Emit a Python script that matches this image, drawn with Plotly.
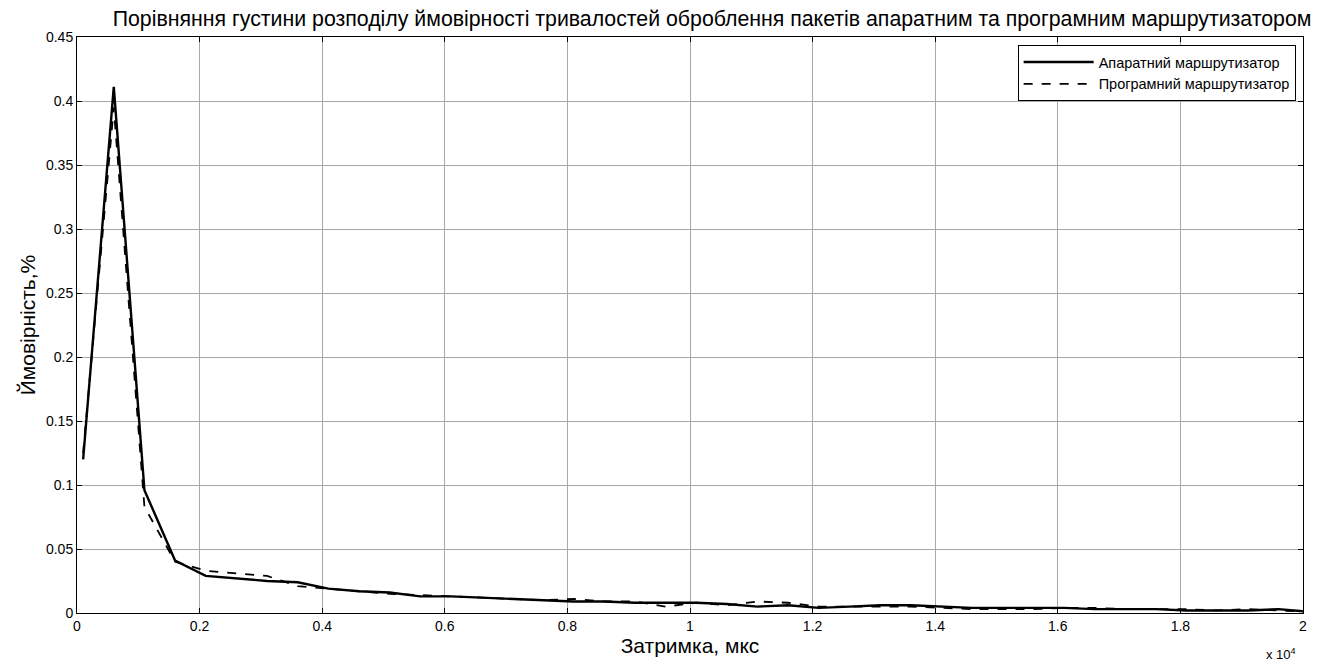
import plotly.graph_objects as go

delay_us = [100 + 500 * i for i in range(41)]
hardware = [0.120, 0.411, 0.096, 0.041, 0.029, 0.027, 0.025, 0.024, 0.019, 0.017,
            0.016, 0.013, 0.013, 0.012, 0.011, 0.010, 0.009, 0.009, 0.008, 0.008,
            0.008, 0.007, 0.005, 0.006, 0.004, 0.005, 0.006, 0.006, 0.005, 0.004,
            0.004, 0.004, 0.004, 0.003, 0.003, 0.003, 0.002, 0.002, 0.002, 0.003,
            0.001]
software = [0.125, 0.395, 0.083, 0.040, 0.033, 0.031, 0.029, 0.021, 0.019, 0.017,
            0.015, 0.014, 0.013, 0.012, 0.011, 0.010, 0.011, 0.009, 0.009, 0.005,
            0.008, 0.006, 0.009, 0.008, 0.005, 0.005, 0.005, 0.005, 0.004, 0.003,
            0.003, 0.003, 0.004, 0.004, 0.003, 0.003, 0.003, 0.002, 0.003, 0.002,
            0.001]

x_tickvals = [0, 2000, 4000, 6000, 8000, 10000, 12000, 14000, 16000, 18000, 20000]
x_ticktext = ["0", "0.2", "0.4", "0.6", "0.8", "1", "1.2", "1.4", "1.6", "1.8", "2"]
y_tickvals = [0, 0.05, 0.1, 0.15, 0.2, 0.25, 0.3, 0.35, 0.4, 0.45]
y_ticktext = ["0", "0.05", "0.1", "0.15", "0.2", "0.25", "0.3", "0.35", "0.4", "0.45"]

fig = go.Figure()
fig.add_trace(go.Scatter(x=delay_us, y=hardware, mode="lines",
                         name="Апаратний маршрутизатор",
                         line=dict(color="black", width=2.4)))
fig.add_trace(go.Scatter(x=delay_us, y=software, mode="lines",
                         name="Програмний маршрутизатор",
                         line=dict(color="black", width=1.8, dash="dash")))

axis_common = dict(showline=True, linecolor="black", linewidth=1, mirror="ticks",
                   ticks="inside", ticklen=5, tickcolor="black",
                   showgrid=True, gridcolor="#a8a8a8", gridwidth=1, zeroline=False,
                   tickfont=dict(family="Arial", size=14, color="black"))

fig.update_xaxes(range=[0, 20000], tickvals=x_tickvals, ticktext=x_ticktext,
                 title=dict(text="Затримка, мкс", font=dict(family="Arial", size=21, color="black"),
                            standoff=2),
                 **axis_common)
fig.update_yaxes(range=[0, 0.45], tickvals=y_tickvals, ticktext=y_ticktext,
                 title=dict(text="Ймовірність,%", font=dict(family="Arial", size=21, color="black"),
                            standoff=4),
                 **axis_common)

fig.update_layout(
    width=1316, height=658,
    margin=dict(l=69, r=21, t=29, b=53),
    paper_bgcolor="white", plot_bgcolor="white",
    font=dict(family="Arial", color="black"),
    title=dict(text="Порівняння густини розподілу ймовірності тривалостей оброблення пакетів апаратним та програмним маршрутизатором",
               font=dict(family="Arial", size=21.3, color="black"),
               xref="paper", x=0.518, xanchor="center", y=0.984, yanchor="middle"),
    legend=dict(x=0.994, xanchor="right", y=0.986, yanchor="top",
                bgcolor="white", bordercolor="black", borderwidth=1,
                font=dict(family="Arial", size=14.5, color="black"),
                tracegroupgap=0, itemwidth=70),
    showlegend=True,
)

fig.add_annotation(text="x 10<sup>4</sup>", xref="paper", yref="paper",
                   x=0.996, y=-0.071, xanchor="right", yanchor="middle", showarrow=False,
                   font=dict(family="Arial", size=13, color="black"))

fig.write_html("out.html")
